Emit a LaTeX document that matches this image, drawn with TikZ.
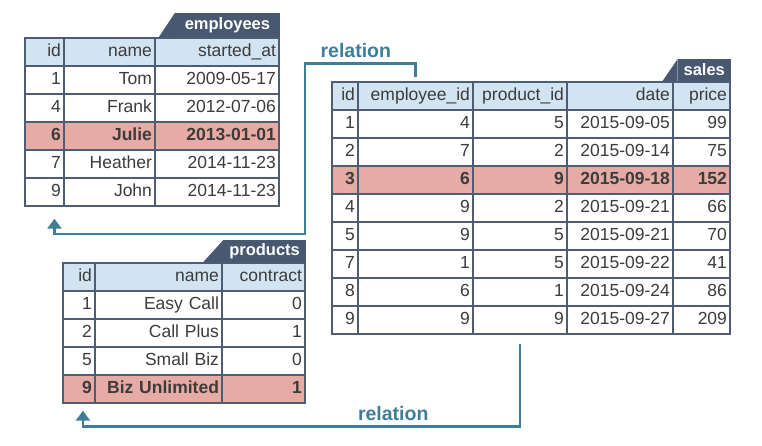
\documentclass[tikz,border=0pt]{standalone}
\usepackage{fontspec}
\setmainfont{Liberation Sans}
\usetikzlibrary{matrix,arrows.meta}
\definecolor{gridc}{HTML}{4E5D74}
\definecolor{headc}{HTML}{D2E3F2}
\definecolor{hlc}{HTML}{E6ABA5}
\definecolor{tabc}{HTML}{485870}
\definecolor{relc}{HTML}{3D7E99}
\definecolor{inkc}{HTML}{3C3C3C}
\newcommand\cellfont{\fontsize{17.5}{20}\selectfont}
\begin{document}
\begin{tikzpicture}[x=1pt,y=-1pt,
table/.style={matrix of nodes, inner sep=0pt, column sep=-1.5pt, row sep=-1.5pt, anchor=north west,
  nodes={draw=gridc, line width=1.5pt, fill=white, text=inkc, minimum height=28pt, inner xsep=3pt, inner ysep=0pt,
  text height=12.5pt, text depth=3.5pt, align=right, font=\cellfont},
  row 1/.style={nodes={fill=headc}}},
hl/.style={nodes={fill=hlc, font=\cellfont\bfseries}},
tab/.style={fill=tabc, text=white, font=\fontsize{16.5}{18}\selectfont\bfseries, minimum height=23pt,
  inner xsep=6pt, inner ysep=0pt, outer sep=0pt, anchor=south east},
relation/.style={draw=relc, line width=2.8pt, -{Triangle[width=14pt,length=10pt]}},
rellabel/.style={text=relc, font=\fontsize{19.5}{22}\selectfont\bfseries}]
\useasboundingbox (0,0) rectangle (762,445);
\matrix[table, row 4/.style={hl}, column 1/.style={nodes={text width=33pt}}, column 2/.style={nodes={text width=85pt}},
  column 3/.style={nodes={text width=118pt}}] (emp) at (24,37) {
id & name & started\_at \\
1 & Tom & 2009-05-17 \\
4 & Frank & 2012-07-06 \\
6 & Julie & 2013-01-01 \\
7 & Heather & 2014-11-23 \\
9 & John & 2014-11-23 \\
};
\matrix[table, row 4/.style={hl}, column 1/.style={nodes={text width=20pt}}, column 2/.style={nodes={text width=109pt}},
  column 3/.style={nodes={text width=88pt}}, column 4/.style={nodes={text width=100pt}},
  column 5/.style={nodes={text width=51pt}}] (sales) at (331,81) {
id & employee\_id & product\_id & date & price \\
1 & 4 & 5 & 2015-09-05 & 99 \\
2 & 7 & 2 & 2015-09-14 & 75 \\
3 & 6 & 9 & 2015-09-18 & 152 \\
4 & 9 & 2 & 2015-09-21 & 66 \\
5 & 9 & 5 & 2015-09-21 & 70 \\
7 & 1 & 5 & 2015-09-22 & 41 \\
8 & 6 & 1 & 2015-09-24 & 86 \\
9 & 9 & 9 & 2015-09-27 & 209 \\
};
\matrix[table, row 5/.style={hl}, column 1/.style={nodes={text width=26pt}}, column 2/.style={nodes={text width=121pt}},
  column 3/.style={nodes={text width=77pt}}] (prod) at (62,262) {
id & name & contract \\
1 & Easy Call & 0 \\
2 & Call Plus & 1 \\
5 & Small Biz & 0 \\
9 & Biz Unlimited & 1 \\
};
\node[tab, minimum width=105pt, minimum height=24pt] (emptab) at (emp.north east) {employees};
\node[tab, minimum height=22pt] (salestab) at (sales.north east) {sales};
\node[tab, minimum height=22pt] (prodtab) at (prod.north east) {products};
\fill[tabc] (emptab.north west) -- (emptab.south west) -- ++(-16,0) -- cycle;
\fill[tabc] (salestab.north west) -- (salestab.south west) -- ++(-15,0) -- cycle;
\fill[tabc] (prodtab.north west) -- (prodtab.south west) -- ++(-20,0) -- cycle;
\draw[relation] ([yshift=4pt]sales-1-2.north) -- ++(0,-14) -| node[rellabel, pos=0.27, above=1pt] {relation} (305,234)
  -| ([xshift=10pt,yshift=-12pt]emp-6-1.south);
\draw[relation] ([yshift=-9pt]sales-9-3.south) -- ++(0,83) -| node[rellabel, pos=0.145, above=1pt] {relation}
  ([xshift=4pt,yshift=-7pt]prod-5-1.south);
\end{tikzpicture}
\end{document}
